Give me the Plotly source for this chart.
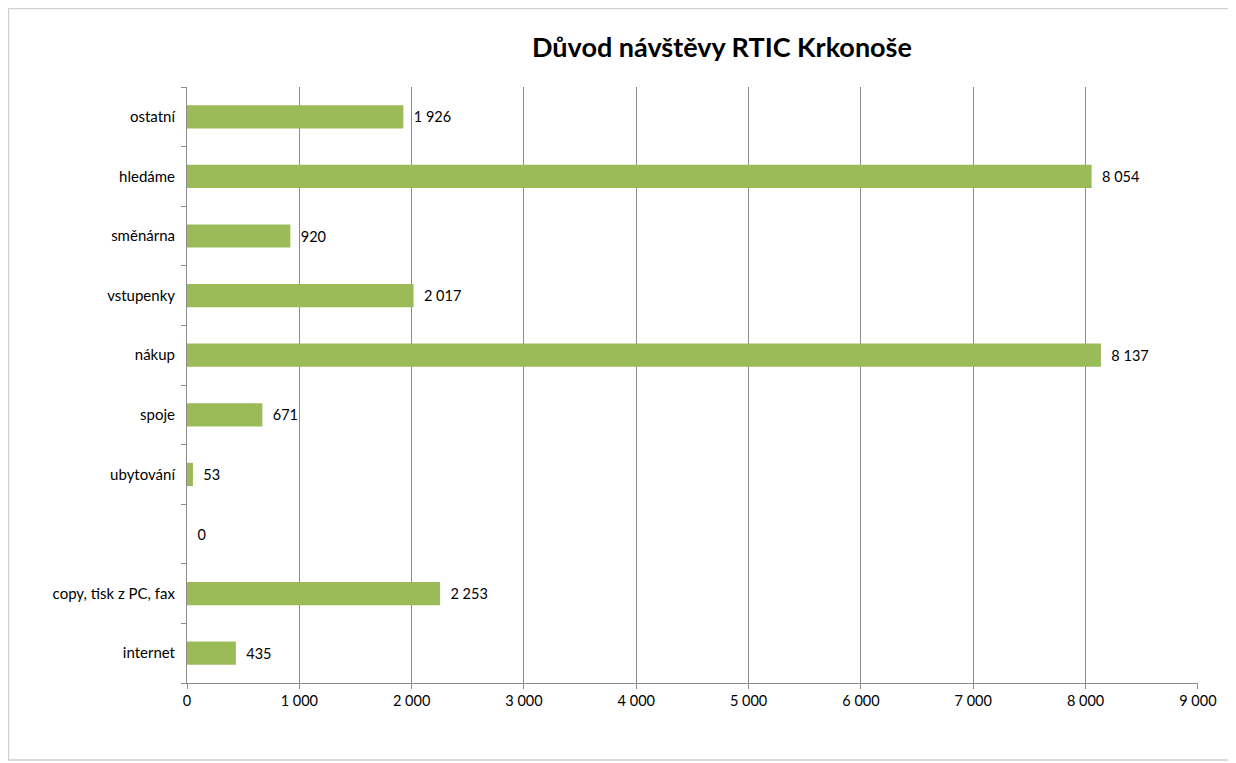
import plotly.graph_objects as go

categories = ["internet", "copy, tisk z PC, fax", " ", "ubytování", "spoje",
              "nákup", "vstupenky", "směnárna", "hledáme", "ostatní"]
values = [435, 2253, 0, 53, 671, 8137, 2017, 920, 8054, 1926]
x_ticks = [0, 1000, 2000, 3000, 4000, 5000, 6000, 7000, 8000, 9000]

FONT = "Lato"
GRID = "#8C8C8C"

fig = go.Figure(go.Bar(
    x=values,
    y=categories,
    orientation="h",
    marker=dict(color="#9BBB59", line=dict(width=0)),
    width=0.39,
    texttemplate="\u00a0\u00a0%{x:,}",
    textposition="outside",
    textfont=dict(family=FONT, size=14.5, color="#000000"),
    cliponaxis=False,
    hoverinfo="skip",
))

fig.update_layout(
    width=1228,
    height=755,
    separators=", ",
    paper_bgcolor="white",
    plot_bgcolor="white",
    margin=dict(l=179, r=38, t=79, b=80),
    showlegend=False,
    title=dict(
        text="<b>Důvod návštěvy RTIC Krkonoše</b>",
        font=dict(family=FONT, size=27, color="#000000"),
        x=0.5814, xanchor="center",
        y=0.948, yanchor="middle",
    ),
    xaxis=dict(
        range=[0, 9001],
        tickvals=x_ticks,
        tickformat=",",
        showgrid=True,
        gridcolor=GRID,
        gridwidth=1,
        zeroline=False,
        showline=True,
        linecolor=GRID,
        linewidth=1,
        ticks="outside",
        ticklen=5,
        tickcolor=GRID,
        tickfont=dict(family=FONT, size=14.5, color="#000000"),
        fixedrange=True,
    ),
    yaxis=dict(
        categoryorder="array",
        categoryarray=categories,
        showgrid=False,
        zeroline=False,
        showline=True,
        linecolor=GRID,
        linewidth=1,
        ticks="outside",
        tickson="boundaries",
        ticklen=5,
        tickcolor=GRID,
        ticklabelstandoff=8,
        tickfont=dict(family=FONT, size=15, color="#000000"),
        fixedrange=True,
    ),
    shapes=[dict(
        type="rect", xref="paper", yref="paper",
        x0=-0.1766, x1=1.0346, y0=-0.129, y1=1.1317,
        line=dict(color="#D0D0D0", width=1.5),
        fillcolor="rgba(0,0,0,0)",
        layer="below",
    )],
)

fig.write_html("out.html")
